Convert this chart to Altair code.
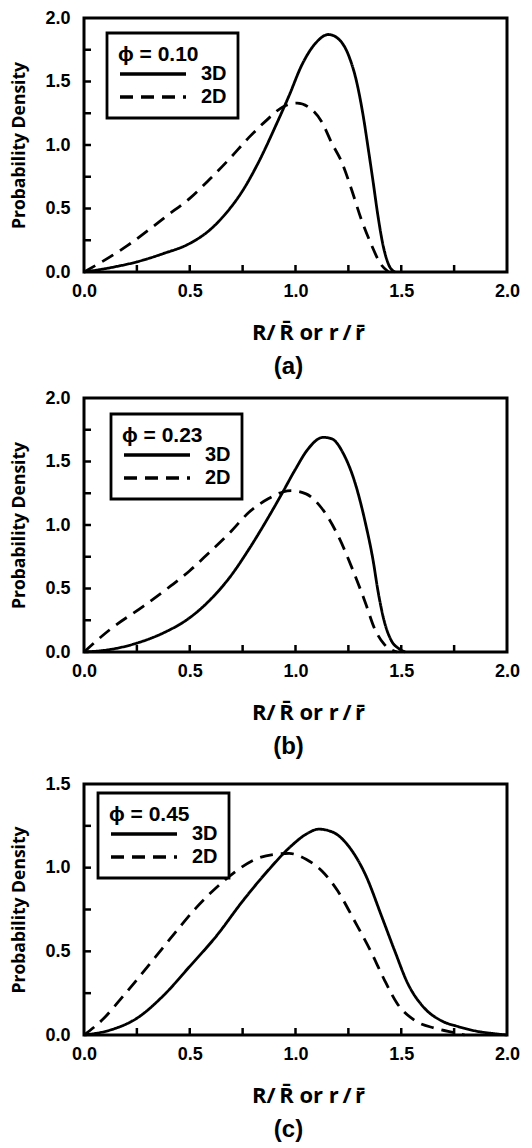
import altair as alt
import pandas as pd

# ---------------- data ----------------
# panel (a)  phi = 0.10
a3_x = [0, 0.125, 0.25, 0.375, 0.5, 0.594, 0.67, 0.75, 0.83, 0.906, 0.97, 1.03, 1.094, 1.156, 1.20, 1.25, 1.29, 1.32, 1.344, 1.367, 1.39, 1.414, 1.44, 1.47]
a3_y = [0, 0.034, 0.08, 0.145, 0.225, 0.33, 0.46, 0.64, 0.88, 1.15, 1.39, 1.63, 1.80, 1.87, 1.84, 1.71, 1.49, 1.23, 0.97, 0.71, 0.44, 0.21, 0.06, 0]
a2_x = [0, 0.203, 0.305, 0.39, 0.5, 0.594, 0.6875, 0.78, 0.86, 0.94, 1.008, 1.06, 1.125, 1.17, 1.22, 1.265, 1.31, 1.36, 1.40, 1.44]
a2_y = [0, 0.205, 0.33, 0.44, 0.58, 0.73, 0.89, 1.06, 1.19, 1.30, 1.33, 1.30, 1.18, 1.02, 0.86, 0.65, 0.42, 0.21, 0.07, 0]

# panel (b)  phi = 0.23
b3_x = [0, 0.125, 0.25, 0.375, 0.5, 0.59, 0.69, 0.78, 0.875, 0.94, 1.0, 1.06, 1.13, 1.17, 1.23, 1.28, 1.33, 1.367, 1.39, 1.42, 1.45, 1.49, 1.52]
b3_y = [0, 0.02, 0.07, 0.15, 0.27, 0.40, 0.59, 0.81, 1.07, 1.26, 1.44, 1.60, 1.69, 1.68, 1.55, 1.34, 1.02, 0.72, 0.48, 0.24, 0.10, 0.025, 0]
b2_x = [0, 0.125, 0.28, 0.41, 0.5, 0.59, 0.69, 0.78, 0.875, 0.94, 0.98, 1.05, 1.125, 1.20, 1.27, 1.33, 1.375, 1.42, 1.48]
b2_y = [0, 0.18, 0.36, 0.52, 0.64, 0.78, 0.94, 1.10, 1.21, 1.26, 1.27, 1.245, 1.13, 0.92, 0.65, 0.39, 0.18, 0.06, 0]

# panel (c)  phi = 0.45
c3_x = [0, 0.125, 0.25, 0.375, 0.5, 0.625, 0.75, 0.875, 0.98, 1.05, 1.11, 1.18, 1.25, 1.33, 1.41, 1.47, 1.53, 1.61, 1.69, 1.77, 1.86, 1.94, 2.0]
c3_y = [0, 0.03, 0.10, 0.235, 0.41, 0.59, 0.80, 0.99, 1.13, 1.20, 1.23, 1.21, 1.13, 0.96, 0.70, 0.50, 0.31, 0.16, 0.085, 0.05, 0.022, 0.008, 0]
c2_x = [0, 0.094, 0.17, 0.25, 0.34, 0.44, 0.53, 0.625, 0.72, 0.81, 0.906, 0.97, 1.05, 1.125, 1.20, 1.28, 1.36, 1.42, 1.48, 1.56, 1.66, 1.75, 1.80]
c2_y = [0, 0.10, 0.21, 0.33, 0.47, 0.625, 0.76, 0.88, 0.98, 1.05, 1.08, 1.085, 1.05, 0.98, 0.86, 0.68, 0.49, 0.33, 0.19, 0.09, 0.04, 0.014, 0]

x_labels = [0, 0.5, 1.0, 1.5, 2.0]
x_minor = [0.25, 0.5, 0.75, 1.0, 1.25, 1.5, 1.75]
y_labels_ab = [0, 0.5, 1.0, 1.5, 2.0]
y_minor_ab = [0.25, 0.5, 0.75, 1.0, 1.25, 1.5, 1.75]
y_labels_c = [0, 0.5, 1.0, 1.5]
y_minor_c = [0.25, 0.5, 0.75, 1.0, 1.25]
series_names = ["3D", "2D"]

W = 423
X_TITLE = "R/\u2009R\u0304 or r\u2009/\u2009r\u0304"
Y_TITLE = "Probability Density"


def panel(x3, y3, x2, y2, ymax, ylab, yminor, phi, tag, lx, ly, H):
    df = pd.DataFrame({
        "x": x3 + x2,
        "y": y3 + y2,
        "series": [series_names[0]] * len(x3) + [series_names[1]] * len(x2),
    })
    xs = alt.Scale(domain=[0, 2], nice=False, zero=False)
    ys = alt.Scale(domain=[0, ymax], nice=False)
    xax = alt.Axis(values=x_labels, format=".1f", title=X_TITLE, titleX=224, titleAlign="center")
    yax = alt.Axis(values=ylab, format=".1f", title=Y_TITLE)
    lines = alt.Chart(df).mark_line(color="black", strokeWidth=2.8, interpolate="monotone").encode(
        x=alt.X("x:Q", scale=xs, axis=xax),
        y=alt.Y("y:Q", scale=ys, axis=yax),
        strokeDash=alt.StrokeDash(
            "series:N",
            scale=alt.Scale(domain=series_names, range=[[1, 0], [13, 8]]),
            sort=series_names,
            legend=alt.Legend(
                title=phi, orient="none", legendX=lx, legendY=ly,
                labelExpr="datum.label + '\u00a0\u00a0\u00a0'",
            ),
        ),
    )
    xt = alt.Chart(pd.DataFrame({"x": x_minor})).mark_rule(color="black", strokeWidth=2.5).encode(
        x=alt.X("x:Q", scale=xs, axis=xax),
        y=alt.value(H),
        y2=alt.value(H - 7),
    )
    yt = alt.Chart(pd.DataFrame({"y": yminor})).mark_rule(color="black", strokeWidth=2.5).encode(
        y=alt.Y("y:Q", scale=ys, axis=yax),
        x=alt.value(0),
        x2=alt.value(7),
    )
    return alt.layer(lines, xt, yt).properties(
        width=W, height=H,
        title=alt.TitleParams(tag, orient="bottom", anchor="middle", fontSize=24, offset=12, dx=-7,
                              font="Liberation Sans", fontWeight="bold", color="black"),
    )


pa = panel(a3_x, a3_y, a2_x, a2_y, 2.0, y_labels_ab, y_minor_ab, "\u03d5 = 0.10", "(a)", 23, 15, 254)
pb = panel(b3_x, b3_y, b2_x, b2_y, 2.0, y_labels_ab, y_minor_ab, "\u03d5 = 0.23", "(b)", 27, 16, 254)
pc = panel(c3_x, c3_y, c2_x, c2_y, 1.5, y_labels_c, y_minor_c, "\u03d5 = 0.45", "(c)", 14, 9, 251)

top_two = alt.vconcat(pa, pb, spacing=6).resolve_scale(strokeDash="independent").resolve_legend(strokeDash="independent")

chart = alt.vconcat(top_two, pc, spacing=12).resolve_scale(
    strokeDash="independent"
).resolve_legend(strokeDash="independent").properties(
    padding={"left": 9, "top": 7, "right": 5, "bottom": 3}
).configure_view(
    stroke="black", strokeWidth=3
).configure_axis(
    grid=False, domain=False, ticks=False, labelFlush=False,
    labelFont="Liberation Sans", labelFontWeight="bold", labelFontSize=18, labelColor="black",
    titleFont="Open Sans", titleFontWeight="bold", titleColor="black",
).configure_axisX(
    labelPadding=10, titlePadding=22, titleFontSize=22,
).configure_axisY(
    labelPadding=14, titlePadding=16, titleFontSize=17.5,
).configure_legend(
    strokeColor="black", strokeWidth=2.8, padding=11, fillColor="white",
    symbolType="stroke", symbolSize=4356, symbolStrokeWidth=3.4, symbolStrokeColor="black",
    clipHeight=18, rowPadding=3, labelOffset=13,
    labelFont="Liberation Sans", labelFontWeight="bold", labelFontSize=20, labelColor="black",
    titleFont="Liberation Sans", titleFontWeight="bold", titleFontSize=21, titleColor="black",
    titlePadding=0,
)

chart.save("out.html", embed_options={"renderer": "svg", "actions": False})
